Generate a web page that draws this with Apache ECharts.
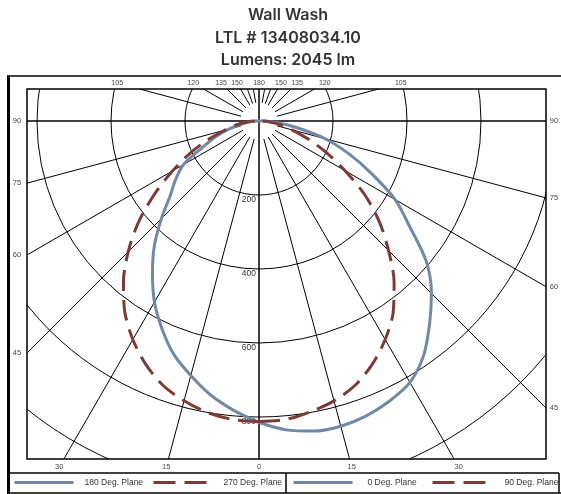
<!DOCTYPE html>
<html>
<head>
<meta charset="utf-8">
<script src="https://cdn.jsdelivr.net/npm/echarts@6/dist/echarts.min.js"></script>
<style>
html, body { margin: 0; background: #fff; }
#main { width: 561px; height: 494px; }
</style>
</head>
<body>
<div id="main"></div>
<script>
// candela values, every 5 deg from nadir (0) to horizontal (90)
var angles = [0, 5, 10, 15, 20, 25, 30, 35, 40, 45, 50, 55, 60, 65, 70, 75, 80, 85, 90]
var plane180 = [815, 785, 752, 712, 672, 620, 565, 502, 440, 373, 313, 275, 236, 168, 125, 85, 50, 25, 8]
var plane0 = [815, 838, 851, 854, 848, 835, 816, 775, 717, 659, 590, 497, 425, 335, 258, 185, 105, 50, 12]
var plane270 = [812, 810, 800, 783, 760, 725, 682, 632, 570, 500, 425, 345, 270, 205, 145, 95, 65, 32, 8]
var plane90 = [812, 810, 798, 783, 760, 725, 682, 632, 568, 495, 425, 350, 268, 200, 140, 92, 60, 30, 8]

var ringTicks = [200, 400, 600, 800]
var spokeAngles = [0, 15, 30, 45, 60, 75, 90, 105, 120, 135, 150, 160, 170, 180]
var sideTicks = [90, 75, 60, 45]
var topTicks = [105, 120, 135, 150]
var bottomTicks = [30, 15]

var BLUE = '#7189a8'
var RED = '#7d3a37'
var K = 0.37          // px per candela
var CX = 259
var CY = 121
var RMAX = 1200
var BOX = {l: 27, t: 89, r: 546, b: 459}
var W = 561
var H = 494

var chart = echarts.init(document.getElementById('main'))

// left half uses the angle as is, right half is mirrored (360 - a)
function half (vals, side) {
  var pts = []
  for (var i = 0; i < angles.length; i++) {
    pts.push([vals[i], side < 0 ? angles[i] : 360 - angles[i]])
  }
  pts.push([0, 180])
  return pts
}

function curve (name, vals, side, color, dashed) {
  return {
    name: name,
    type: 'line',
    coordinateSystem: 'polar',
    data: half(vals, side),
    symbol: 'none',
    smooth: 0.3,
    silent: true,
    z: dashed ? 4 : 3,
    itemStyle: {color: color},
    lineStyle: {color: color, width: 3, type: dashed ? [21, 9] : 'solid'}
  }
}

var series = []
spokeAngles.forEach(function (a) {
  var main = a % 90 === 0
  var rIn = main ? 0 : 50
  var sides = (a === 0 || a === 180) ? [a] : [a, 360 - a]
  sides.forEach(function (ang) {
    series.push({
      type: 'line',
      coordinateSystem: 'polar',
      data: [[rIn, ang], [RMAX, ang]],
      symbol: 'none',
      silent: true,
      z: 1,
      lineStyle: {color: '#000', width: main ? 1.5 : 1}
    })
  })
})
series.push(curve('180 Deg. Plane', plane180, -1, BLUE, false))
series.push(curve('0 Deg. Plane', plane0, 1, BLUE, false))
series.push(curve('270 Deg. Plane', plane270, -1, RED, true))
series.push(curve('90 Deg. Plane', plane90, 1, RED, true))

// tick labels sit where the spokes meet the frame
function rad (a) { return a * Math.PI / 180 }
var labelFont = {fontFamily: 'Liberation Sans', fill: '#444'}
function txt (s, x, y, size) {
  return {
    type: 'text', x: x, y: y, z: 102, silent: true,
    style: Object.assign({text: String(s), fontSize: size, align: 'center', verticalAlign: 'middle'}, labelFont)
  }
}

var graphic = [
  {type: 'rect', shape: {x: 0, y: 0, width: W, height: BOX.t}, style: {fill: '#fff'}, z: 100, silent: true},
  {type: 'rect', shape: {x: 0, y: BOX.b, width: W, height: H - BOX.b}, style: {fill: '#fff'}, z: 100, silent: true},
  {type: 'rect', shape: {x: 0, y: BOX.t, width: BOX.l, height: BOX.b - BOX.t}, style: {fill: '#fff'}, z: 100, silent: true},
  {type: 'rect', shape: {x: BOX.r, y: BOX.t, width: W - BOX.r, height: BOX.b - BOX.t}, style: {fill: '#fff'}, z: 100, silent: true},
  {type: 'rect', shape: {x: BOX.l, y: BOX.t, width: BOX.r - BOX.l, height: BOX.b - BOX.t}, style: {fill: null, stroke: '#000', lineWidth: 1.5}, z: 101, silent: true},
  {type: 'rect', shape: {x: 7, y: 75.5, width: 3, height: 418.5}, style: {fill: '#000'}, z: 101, silent: true},
  {type: 'line', shape: {x1: 7, y1: 76, x2: W, y2: 76}, style: {stroke: '#000', lineWidth: 1.5}, z: 101, silent: true},
  {type: 'line', shape: {x1: 7, y1: 493, x2: W, y2: 493}, style: {stroke: '#000', lineWidth: 1.5}, z: 101, silent: true},
  {type: 'line', shape: {x1: 8, y1: 473, x2: 559, y2: 473}, style: {stroke: '#000', lineWidth: 1.5}, z: 101, silent: true},
  {type: 'line', shape: {x1: 286, y1: 473, x2: 286, y2: 493}, style: {stroke: '#000', lineWidth: 1.5}, z: 101, silent: true},
  {type: 'line', shape: {x1: 559, y1: 473, x2: 559, y2: 493}, style: {stroke: '#000', lineWidth: 1.5}, z: 101, silent: true}
]

sideTicks.forEach(function (a) {
  var s = Math.sin(rad(a))
  var c = Math.cos(rad(a))
  graphic.push(txt(a, 17, CY + c * (CX - BOX.l) / s, 7.5))
  graphic.push(txt(a, 554, CY + c * (BOX.r - CX) / s, 7.5))
})
topTicks.forEach(function (a) {
  var t = (CY - 83) / -Math.cos(rad(a))
  graphic.push(txt(a, CX - Math.sin(rad(a)) * t, 83, 7))
  graphic.push(txt(a, CX + Math.sin(rad(a)) * t, 83, 7))
})
graphic.push(txt(180, CX, 83, 7))
bottomTicks.forEach(function (a) {
  var t = (467 - CY) / Math.cos(rad(a))
  graphic.push(txt(a, CX - Math.sin(rad(a)) * t, 467, 7.5))
  graphic.push(txt(a, CX + Math.sin(rad(a)) * t, 467, 7.5))
})
graphic.push(txt(0, CX, 467, 7.5))

function legendItem (name, left, dashed, gap) {
  return {
    data: [name],
    left: left,
    top: 477,
    padding: 0,
    itemWidth: 59,
    itemHeight: 14,
    z: 200,
    selectedMode: false,
    itemStyle: {color: 'rgba(0,0,0,0)', borderWidth: 0, opacity: 0},
    lineStyle: {width: 3, type: dashed ? [22, 9] : 'solid'},
    textStyle: {fontFamily: 'Liberation Sans', fontSize: 8.5, color: '#333', padding: [0, 0, 0, gap]}
  }
}

chart.setOption({
  animation: false,
  backgroundColor: '#fff',
  title: {
    text: 'Wall Wash\nLTL # 13408034.10\nLumens: 2045 lm',
    left: 288,
    textAlign: 'center',
    top: 4,
    padding: 0,
    z: 200,
    textStyle: {fontFamily: 'Inter', fontWeight: 600, fontSize: 16, lineHeight: 22.5, color: '#333'}
  },
  legend: [
    legendItem('180 Deg. Plane', 13, false, 6),
    legendItem('270 Deg. Plane', 152, true, 6),
    legendItem('0 Deg. Plane', 292, false, 10),
    legendItem('90 Deg. Plane', 431, true, 8)
  ],
  polar: {center: [CX, CY], radius: RMAX * K},
  angleAxis: {type: 'value', min: 0, max: 360, startAngle: 270, clockwise: true, show: false},
  radiusAxis: {
    type: 'value',
    min: 0,
    max: RMAX,
    interval: 200,
    axisLine: {show: false},
    axisTick: {show: false},
    axisLabel: {
      formatter: function (v) { return ringTicks.indexOf(v) >= 0 ? String(v) : '' },
      fontFamily: 'Liberation Sans',
      fontSize: 8.5,
      color: '#333',
      margin: -3,
      align: 'right',
      verticalAlign: 'top'
    },
    splitLine: {show: true, lineStyle: {color: '#000', width: 1}}
  },
  graphic: graphic,
  series: series
})
</script>
</body>
</html>
